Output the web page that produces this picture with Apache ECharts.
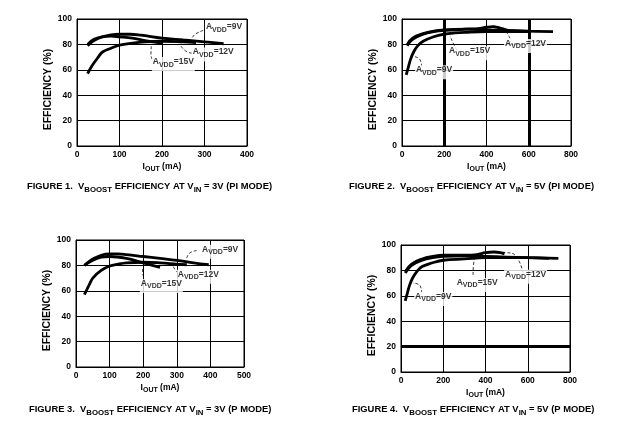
<!DOCTYPE html>
<html><head><meta charset="utf-8">
<script src="https://cdn.jsdelivr.net/npm/echarts@6/dist/echarts.min.js"></script>
<style>html,body{margin:0;padding:0;background:#fff}#c{width:620px;height:428px}</style>
</head><body><div id="c"></div>
<script>
// ---- Figure 1 (VIN=3V, PI mode) ----
const f1_top_x = [25,40,60,80,100,125,150,200,250,300,345];
const f1_top_y = [79,83,86,87.5,88,88,87.3,85,83.5,82,80.5];
const f1_mid_x = [25,40,60,80,100,130,160,200];
const f1_mid_y = [80,84,86,86.5,86,85,83,81];
const f1_low_x = [25,35,50,60,80,100,130,160,200,250,280];
const f1_low_y = [57,63,70,74,77,79.5,81,82,82.5,82,81.5];
// ---- Figure 2 (VIN=5V, PI mode) ----
const f2_top_x = [25,50,100,150,200,300,400,500,600,715];
const f2_top_y = [80,85,88.5,90.5,91.5,92,91.5,91,90.5,90];
const f2_mid_x = [25,50,100,150,200,300,360,400,430,460,500];
const f2_mid_y = [79,84,88,90,91,92,92.5,93.5,94,93,91];
const f2_low_x = [20,30,40,55,75,100,150,200,250,300,400,500,600];
const f2_low_y = [56,62,68,74,79,82.5,86,88,89,89.5,90,90,90];
// ---- Figure 3 (VIN=3V, P mode) ----
const f3_top_x = [25,50,75,100,125,150,200,250,300,350,395];
const f3_top_y = [80,85,88,89,89,88.5,87,85.5,84,82,80.5];
const f3_mid_x = [25,50,75,100,150,200,250];
const f3_mid_y = [80,84,86.5,87,85.5,82,78.5];
const f3_low_x = [25,40,50,75,100,125,150,200,250,300,330];
const f3_low_y = [57,65,70,76,79.5,81,82,82.5,82,81,80.5];
// ---- Figure 4 (VIN=5V, P mode) ----
const f4_top_x = [20,50,100,150,200,300,400,500,600,745];
const f4_top_y = [78,84,88,90,91,91.5,91,90.5,90,89.5];
const f4_mid_x = [20,50,100,150,200,300,360,400,440,470,490];
const f4_mid_y = [79,85,89,91,92,92,92.5,94,94.5,94,93];
const f4_low_x = [20,30,40,55,75,100,150,200,300,400,500,600,700];
const f4_low_y = [56,62,68,74,79,83,86,88,89,90,90,90,89.5];

// axis ranges / ticks
const xMax = [400,800,500,800];
const xStep = [100,200,100,200];
const yTicks = [0,20,40,60,80,100];

// annotation labels: [text suffix, x, y]
const labels = [
  [['9V',301,92],['12V',270,72],['15V',176,64.5]],
  [['12V',483,78.7],['15V',218,73],['9V',61,58]],
  [['9V',372,90.8],['12V',300,71],['15V',190,63.8]],
  [['12V',488,75],['15V',259,68.5],['9V',62,57.5]]
];
// dashed pointer lines
const pointers = [
  [[[297,91],[278,88],[270,84.5]], [[270,73],[255,75],[243,79.5]], [[183,65],[174,72],[175,79.5]]],
  [[[511,84.8],[480,92],[432,94.5]], [[259,75.6],[245,80],[227,86.6]], [[93,62.5],[85,68],[61,70.3]]],
  [[[359,91.6],[340,90],[329,85.6]], [[318,72.4],[300,75],[289,79.5]], [[205,67],[200,72],[198,77.7]]],
  [[[578,78],[540,92],[500,94],[436,94.7]], [[341,76.4],[343,84],[350,90.8]], [[98,62],[90,68],[57,70]]]
];
// emphasized grid lines
const thickX = [[],[200,600],[],[]];
const thickY = [[],[],[],[20]];

const curves = [
  [[f1_top_x,f1_top_y],[f1_mid_x,f1_mid_y],[f1_low_x,f1_low_y]],
  [[f2_top_x,f2_top_y],[f2_mid_x,f2_mid_y],[f2_low_x,f2_low_y]],
  [[f3_top_x,f3_top_y],[f3_mid_x,f3_mid_y],[f3_low_x,f3_low_y]],
  [[f4_top_x,f4_top_y],[f4_mid_x,f4_mid_y],[f4_low_x,f4_low_y]]
];
const captions = [
  ['1','3V','PI MODE'],['2','5V','PI MODE'],['3','3V','P MODE'],['4','5V','P MODE']
];

const gridPos = [
  {left:77, top:19, width:170, height:127},
  {left:402, top:19, width:169, height:127},
  {left:76, top:240, width:168, height:127},
  {left:401, top:245, width:169, height:127}
];
const capPos = [[27,182],[349,182],[29,405],[352,405]];

const FONT = 'Liberation Sans, Arial, sans-serif';
const rich = {
  a:{fontSize:8.5,fontWeight:'bold',fontFamily:FONT,color:'#000',lineHeight:10,verticalAlign:'top'},
  s:{fontSize:7,fontWeight:'bold',fontFamily:FONT,color:'#000',lineHeight:14,verticalAlign:'top',padding:[4,0,0,0]}
};
const richCap = {
  a:{fontSize:9.4,fontWeight:'bold',fontFamily:FONT,color:'#000',lineHeight:11,verticalAlign:'top'},
  s:{fontSize:7.8,fontWeight:'bold',fontFamily:FONT,color:'#000',lineHeight:15,verticalAlign:'top',padding:[4,0,0,0]}
};

const option = {
  animation:false,
  backgroundColor:'#fff',
  title: captions.map((c,i)=>({
    text:'{a|FIGURE '+c[0]+'.  V}{s|BOOST}{a| EFFICIENCY AT V}{s|IN}{a| = '+c[1]+' ('+c[2]+')}',
    left:capPos[i][0], top:capPos[i][1], padding:0,
    textStyle:{rich:richCap}
  })),
  grid: gridPos.map(g=>Object.assign({show:true,borderColor:'#000',borderWidth:1,containLabel:false},g)),
  xAxis: gridPos.map((g,i)=>({
    gridIndex:i, type:'value', min:0, max:xMax[i], interval:xStep[i],
    axisLine:{lineStyle:{color:'#000',width:1}}, axisTick:{show:false},
    splitLine:{lineStyle:{color:'#000',width:1}},
    axisLabel:{color:'#000',fontSize:8.5,fontWeight:'bold',fontFamily:FONT,margin:4},
    name:'{a|I}{s|OUT}{a| (mA)}', nameLocation:'middle', nameGap:16,
    nameTextStyle:{rich:rich}
  })),
  yAxis: gridPos.map((g,i)=>({
    gridIndex:i, type:'value', min:0, max:100, interval:20,
    axisLine:{lineStyle:{color:'#000',width:1}}, axisTick:{show:false},
    splitLine:{lineStyle:{color:'#000',width:1}},
    axisLabel:{color:'#000',fontSize:8.5,fontWeight:'bold',fontFamily:FONT,margin:5},
    name:'EFFICIENCY (%)', nameLocation:'middle', nameGap:20, nameRotate:90,
    nameTextStyle:{color:'#000',fontSize:10.5,fontWeight:'bold',fontFamily:FONT,padding:[0,14,0,0]}
  })),
  series:[]
};

curves.forEach((cs,i)=>{
  cs.forEach((c,k)=>{
    const s = {
      type:'line', xAxisIndex:i, yAxisIndex:i, smooth:0.4, symbol:'none',
      lineStyle:{color:'#000',width:2.8}, silent:true, z:5,
      data:c[0].map((x,j)=>[x,c[1][j]])
    };
    if(k===0){
      const ml=[];
      thickX[i].forEach(v=>ml.push({xAxis:v}));
      thickY[i].forEach(v=>ml.push({yAxis:v}));
      if(ml.length) s.markLine={silent:true,symbol:'none',label:{show:false},
        lineStyle:{color:'#000',width:3,type:'solid'},data:ml};
    }
    option.series.push(s);
  });
  pointers[i].forEach(p=>{
    option.series.push({type:'line',xAxisIndex:i,yAxisIndex:i,smooth:0.5,symbol:'none',silent:true,z:4,
      lineStyle:{color:'#000',width:0.8,type:[3,2]},data:p});
  });
  labels[i].forEach(l=>{
    option.series.push({type:'scatter',xAxisIndex:i,yAxisIndex:i,symbolSize:0,silent:true,z:6,
      data:[[l[1],l[2]]],
      label:{show:true,position:'inside',align:'left',verticalAlign:'middle',
        backgroundColor:'#fff',padding:[0,1,0,1],
        formatter:'{a|A}{s|VDD}{a|='+l[0]+'}',rich:rich}});
  });
});

const chart = echarts.init(document.getElementById('c'),null,{renderer:'canvas'});
chart.setOption(option);
</script></body></html>
